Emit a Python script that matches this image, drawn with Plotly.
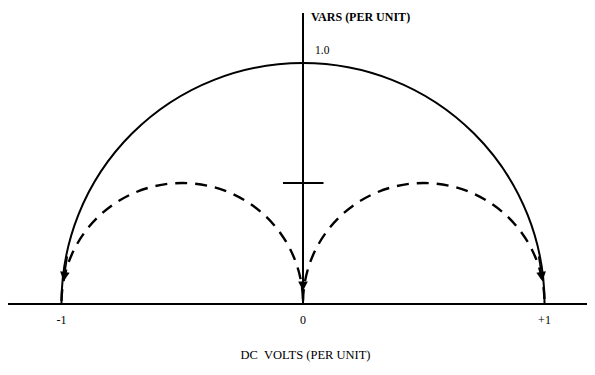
import plotly.graph_objects as go

# Circle loci of the diagram (DC volts vs VARS, per unit).
circle_centers = [0.0, -0.5, 0.5]
circle_radii = [1.0, 0.5, 0.5]

# Horizontal axis ticks.
volt_ticks = [-1, 0, 1]
volt_labels = ["-1", "0", "+1"]

# Tick marked on the VARS axis.
vars_tick = 0.5

# Direction arrows near the bottom of the loci: tip and tail points.
arrow_tip_x = [-0.992, 0.0, 0.992]
arrow_tip_y = [0.09, 0.05, 0.09]
arrow_tail_x = [-0.975, 0.0, 0.975]
arrow_tail_y = [0.2, 0.16, 0.2]

serif = "Liberation Serif"

fig = go.Figure()
# an empty trace so the axes get drawn
fig.add_trace(go.Scatter(x=[0], y=[0], mode="markers", marker_opacity=0,
                         hoverinfo="skip", showlegend=False))

for i, (c, r) in enumerate(zip(circle_centers, circle_radii)):
    fig.add_shape(type="circle", xref="x", yref="y",
                  x0=c - r, x1=c + r, y0=-r, y1=r,
                  line=dict(color="black", width=2 if i == 0 else 2.4,
                            dash="solid" if i == 0 else "12px,8px"))

# short tick across the VARS axis
fig.add_shape(type="line", xref="x", yref="y",
              x0=-0.083, x1=0.085, y0=vars_tick, y1=vars_tick,
              line=dict(color="black", width=2))

for tx, ty, ax, ay in zip(arrow_tip_x, arrow_tip_y, arrow_tail_x, arrow_tail_y):
    fig.add_annotation(x=tx, y=ty, ax=ax, ay=ay, xref="x", yref="y",
                       axref="x", ayref="y", text="", showarrow=True,
                       arrowhead=2, arrowsize=1.2, arrowwidth=1.6,
                       arrowcolor="black")

fig.add_annotation(x=0.025, y=1.19, xref="x", yref="y", text="<b>VARS (PER UNIT)</b>",
                   showarrow=False, xanchor="left", yanchor="middle",
                   font=dict(family=serif, size=12, color="black"))
fig.add_annotation(x=0.04, y=1.055, xref="x", yref="y", text="1.0",
                   showarrow=False, xanchor="left", yanchor="middle",
                   font=dict(family=serif, size=11.5, color="black"))

# the page body adds an 8px offset, so the plot area is shifted to compensate
fig.update_layout(
    width=595, height=375,
    margin=dict(l=0, r=0, t=5, b=80),
    paper_bgcolor="white", plot_bgcolor="white",
    showlegend=False,
)
fig.update_xaxes(
    range=[-1.2215, 1.2422], showgrid=False,
    zeroline=True, zerolinecolor="black", zerolinewidth=2,
    showline=True, linecolor="black", linewidth=2,
    tickvals=volt_ticks, ticktext=volt_labels, ticks="",
    ticklabelstandoff=5,
    tickfont=dict(family=serif, size=12, color="black"),
    title=dict(text="DC&nbsp;&nbsp;VOLTS (PER UNIT)", standoff=24,
               font=dict(family=serif, size=12.5, color="black")),
)
fig.update_yaxes(range=[0, 1.2083], showgrid=False, zeroline=False,
                 showticklabels=False, ticks="")

fig.write_html("out.html")
